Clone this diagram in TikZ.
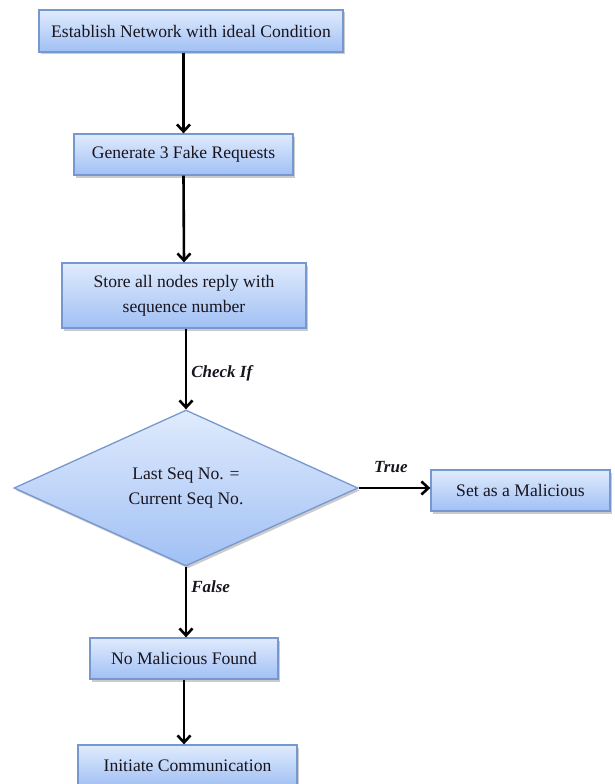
\documentclass[tikz,border=0pt]{standalone}
\usepackage{fontspec}
\setmainfont{Liberation Serif}
\usetikzlibrary{shapes.geometric,shadows,arrows.meta}
\definecolor{boxtop}{RGB}{224,235,253}
\definecolor{boxbot}{RGB}{160,192,244}
\definecolor{boxedge}{RGB}{118,152,206}
\definecolor{txt}{RGB}{25,20,30}
\begin{document}
\begin{tikzpicture}[x=1pt,y=-1pt,
  box/.style={draw=boxedge, line width=1.3pt, top color=boxtop, bottom color=boxbot,
    drop shadow={shadow xshift=2pt, shadow yshift=-2.5pt, fill=black!45, opacity=0.45},
    inner sep=0pt, align=center, text=txt, font=\fontsize{17.6}{25}\selectfont},
  dec/.style={box, shape=diamond, aspect=2.2},
  arr/.style={draw=black, line width=2.6pt, -{Straight Barb[length=7pt,width=13pt]}},
  lab/.style={font=\fontsize{17}{20}\selectfont\bfseries\itshape, text=txt, inner sep=2pt}]
\useasboundingbox (0,0) rectangle (614,784);
\node[box, minimum width=304pt, minimum height=42pt] (b1) at (191,31) {Establish Network with ideal Condition};
\node[box, minimum width=219pt, minimum height=41pt] (b2) at (183.5,154.5) {Generate 3 Fake Requests};
\node[box, minimum width=244pt, minimum height=65pt] (b3) at (184,295.5) {Store all nodes reply with\\sequence number};
\node[dec, minimum width=344pt, minimum height=156pt] (d) at (186,488) {Last Seq No. =\\Current Seq No.};
\node[box, minimum width=179pt, minimum height=41pt] (b5) at (520.5,490.5) {Set as a Malicious};
\node[box, minimum width=188pt, minimum height=41pt] (b6) at (184,658.5) {No Malicious Found};
\node[box, minimum width=219pt, minimum height=42pt] (b7) at (187.5,766) {Initiate Communication};
\draw[arr] (b1.south -| b2.north) -- (b2.north);
\draw[arr] (b2.south) -- (b3.north);
\draw[arr] (b3.south -| d.north) -- node[lab, right=2pt, pos=0.55] (l1) {Check If} (d.north);
\draw[arr] (d.east) -- node[lab, above=12pt, pos=0.45] (l2) {True} (d.east -| b5.west);
\draw[arr] (d.south) -- node[lab, right=2pt, pos=0.28] (l3) {False} (d.south |- b6.north);
\draw[arr] (b6.south) -- (b6.south |- b7.north);
\end{tikzpicture}
\end{document}
